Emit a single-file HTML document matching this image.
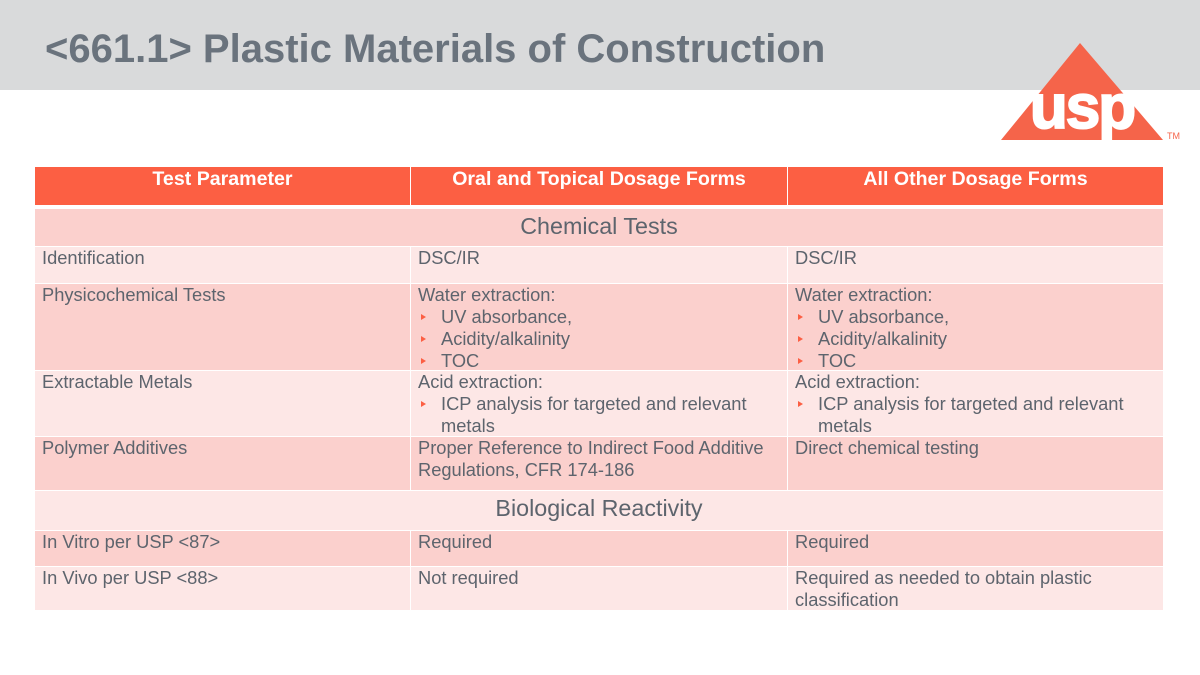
<!DOCTYPE html>
<html><head><meta charset="utf-8"><style>
body{margin:0;width:1200px;height:675px;background:#fff;position:relative;overflow:hidden;font-family:"Liberation Sans",Arial,sans-serif;}
.hdr{position:absolute;left:0;top:0;width:1200px;height:90px;background:#d9dadb;}
.title{position:absolute;left:45px;top:27px;font-size:40px;font-weight:bold;color:#6a737d;}
.c{position:absolute;box-sizing:border-box;font-size:18.3px;color:#5d646d;padding:0 7px;line-height:22px;}
.h{background:#fc5f43;color:#fff;font-weight:bold;text-align:center;font-size:19.6px;padding-top:1px;}
.d{background:#fbd0cd;}
.l{background:#fde7e6;}
.sec{text-align:center;font-size:23.3px;padding-top:6px;}
.b{position:relative;padding-left:23px;}
.b:before{content:"";position:absolute;left:3px;top:8px;border-left:5px solid #fc5f43;border-top:3px solid transparent;border-bottom:3px solid transparent;}
</style></head><body>
<div class="hdr"></div>
<div class="title">&lt;661.1&gt; Plastic Materials of Construction</div>
<svg style="position:absolute;left:995px;top:40px" width="200" height="110">
<polygon points="85,3 6,100 168,100" fill="#f5644a"/>
<text x="87" y="88" text-anchor="middle" font-family="Liberation Sans" font-weight="bold" font-size="62" fill="#fff" stroke="#fff" stroke-width="2" letter-spacing="-2">usp</text>
<text x="172" y="99" font-family="Liberation Sans" font-size="9" fill="#f5644a">TM</text>
</svg>

<div class="c h" style="left:35px;top:167px;width:375px;height:38px">Test Parameter</div>
<div class="c h" style="left:411px;top:167px;width:376px;height:38px">Oral and Topical Dosage Forms</div>
<div class="c h" style="left:788px;top:167px;width:375px;height:38px">All Other Dosage Forms</div>

<div class="c d sec" style="left:35px;top:209px;width:1128px;height:37px">Chemical Tests</div>

<div class="c l" style="left:35px;top:247px;width:375px;height:36px">Identification</div>
<div class="c l" style="left:411px;top:247px;width:376px;height:36px">DSC/IR</div>
<div class="c l" style="left:788px;top:247px;width:375px;height:36px">DSC/IR</div>

<div class="c d" style="left:35px;top:284px;width:375px;height:86px">Physicochemical Tests</div>
<div class="c d" style="left:411px;top:284px;width:376px;height:86px">Water extraction:<div class="b">UV absorbance,</div><div class="b">Acidity/alkalinity</div><div class="b">TOC</div></div>
<div class="c d" style="left:788px;top:284px;width:375px;height:86px">Water extraction:<div class="b">UV absorbance,</div><div class="b">Acidity/alkalinity</div><div class="b">TOC</div></div>

<div class="c l" style="left:35px;top:371px;width:375px;height:65px">Extractable Metals</div>
<div class="c l" style="left:411px;top:371px;width:376px;height:65px">Acid extraction:<div class="b">ICP analysis for targeted and relevant metals</div></div>
<div class="c l" style="left:788px;top:371px;width:375px;height:65px">Acid extraction:<div class="b">ICP analysis for targeted and relevant metals</div></div>

<div class="c d" style="left:35px;top:437px;width:375px;height:53px">Polymer Additives</div>
<div class="c d" style="left:411px;top:437px;width:376px;height:53px">Proper Reference to Indirect Food Additive Regulations, CFR 174-186</div>
<div class="c d" style="left:788px;top:437px;width:375px;height:53px">Direct chemical testing</div>

<div class="c l sec" style="left:35px;top:491px;width:1128px;height:39px">Biological Reactivity</div>

<div class="c d" style="left:35px;top:531px;width:375px;height:35px">In Vitro per USP &lt;87&gt;</div>
<div class="c d" style="left:411px;top:531px;width:376px;height:35px">Required</div>
<div class="c d" style="left:788px;top:531px;width:375px;height:35px">Required</div>

<div class="c l" style="left:35px;top:567px;width:375px;height:43px">In Vivo per USP &lt;88&gt;</div>
<div class="c l" style="left:411px;top:567px;width:376px;height:43px">Not required</div>
<div class="c l" style="left:788px;top:567px;width:375px;height:43px">Required as needed to obtain plastic classification</div>
</body></html>
